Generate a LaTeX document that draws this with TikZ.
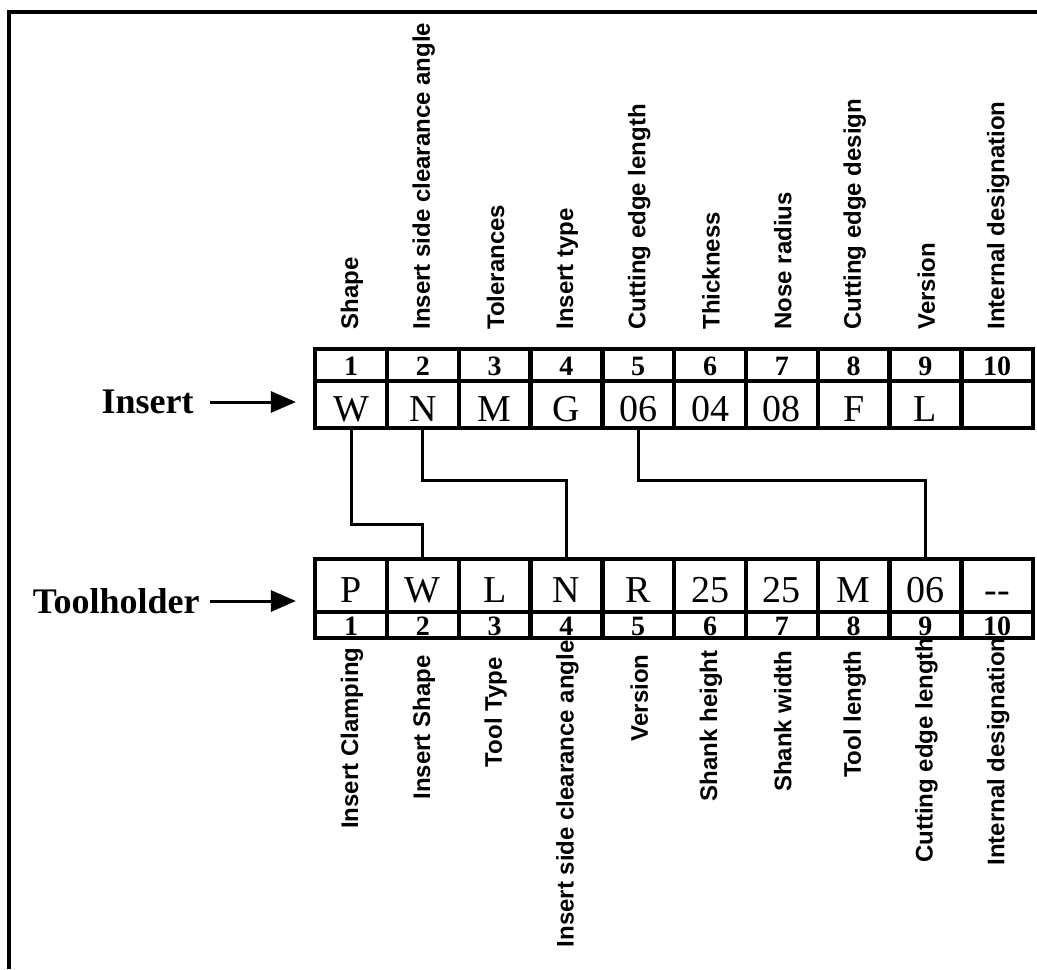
\documentclass[tikz,border=0pt]{standalone}
\usepackage{fontspec}
\setmainfont{Liberation Serif}
\setsansfont{Liberation Sans}
\usetikzlibrary{arrows.meta}

\tikzset{
	cell/.style={draw,line width=2.2pt,inner sep=0pt,minimum width=35.9pt,font=\fontsize{19}{19}\selectfont,text height=17pt,text depth=0pt},
	numcell/.style={draw,line width=2.2pt,inner sep=0pt,minimum width=35.9pt,font=\fontsize{14}{14}\selectfont\bfseries,text height=10.5pt,text depth=0pt},
	field/.style={rotate=90,inner sep=0pt,font=\fontsize{12}{12}\selectfont\sffamily\bfseries},
	tag/.style={anchor=east,inner sep=0pt,font=\fontsize{18}{18}\selectfont\bfseries},
	tagarrow/.style={line width=1.5pt,-{Triangle[length=12.5pt,width=10.5pt]}},
	link/.style={line width=1.5pt}
}

\begin{document}
\begin{tikzpicture}[x=0.5pt,y=-0.5pt]
	\useasboundingbox (0,0) rectangle (1037,969);
	\draw[line width=2pt] (9,969) -- (9,12) -- (1037,12);

	\foreach \v [count=\i] in {W,N,M,G,06,04,08,F,L,{}}
	{
		\node[cell,minimum height=23.5pt] (ins\i) at ({351+71.8*(\i-1)},404.5) {\v};
		\node[numcell,minimum height=16pt] (insnum\i) at ({351+71.8*(\i-1)},365) {\i};
	}

	\foreach \v [count=\i] in {P,W,L,N,R,25,25,M,06,{-{}-}}
	{
		\node[cell,minimum height=26.5pt] (th\i) at ({351+71.8*(\i-1)},585.5) {\v};
		\node[numcell,minimum height=13pt] (thnum\i) at ({351+71.8*(\i-1)},625) {\i};
	}

	\foreach \t [count=\i] in {Shape,Insert side clearance angle,Tolerances,Insert type,Cutting edge length,Thickness,Nose radius,Cutting edge design,Version,Internal designation}
	{
		\node[field,anchor=west] (insfield\i) at ({352+71.8*(\i-1)},330) {\t};
	}

	\foreach \t/\y [count=\i] in {Insert Clamping/647,Insert Shape/655,Tool Type/657,Insert side clearance angle/640,Version/654,Shank height/650,Shank width/650,Tool length/650,Cutting edge length/637,Internal designation/637}
	{
		\node[field,anchor=east] (thfield\i) at ({352+71.8*(\i-1)},\y) {\t};
	}

	\node[tag] (insert) at (194,402) {Insert};
	\node[tag] (toolholder) at (200,601) {Toolholder};
	\draw[tagarrow,shorten <=8pt,shorten >=8.5pt] (insert.east) -- (insert.east -| ins1.west);
	\draw[tagarrow,shorten <=5pt,shorten >=8.5pt] (toolholder.east) -- (toolholder.east -| th1.west);

	\draw[link] (ins1.south) -- ++(0,94) -| (th2.north);
	\draw[link] (ins2.south) -- ++(0,50) -| (th4.north);
	\draw[link] (ins5.south) -- ++(0,50) -| (th9.north);
\end{tikzpicture}
\end{document}
